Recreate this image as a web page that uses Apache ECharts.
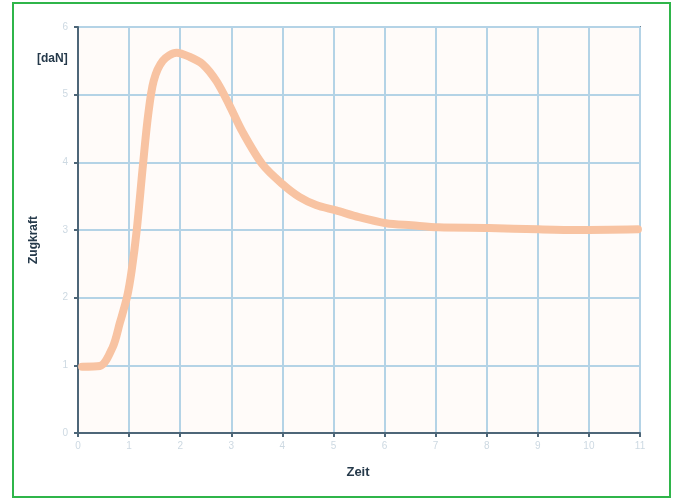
<!DOCTYPE html>
<html>
<head>
<meta charset="utf-8">
<script src="https://cdn.jsdelivr.net/npm/echarts@6/dist/echarts.min.js"></script>
<style>
html,body{margin:0;padding:0;background:#fff;}
#c{width:675px;height:500px;}
</style>
</head>
<body>
<div id="c"></div>
<script>
// Time (x) and tensile force (y)
const zeit =     [0.08, 0.43, 0.68, 0.82, 0.96, 1.05, 1.15, 1.27, 1.37, 1.48, 1.66, 1.93, 2.18, 2.44, 2.71, 2.96, 3.22, 3.61, 4.0, 4.33, 4.66, 5.05, 5.5, 6.03, 6.53, 7.06, 8.04, 9.01, 9.79, 10.96];
const zugkraft = [0.98, 0.99, 1.27, 1.63, 2.01, 2.40, 3.0, 3.95, 4.68, 5.20, 5.50, 5.62, 5.56, 5.45, 5.20, 4.85, 4.45, 3.97, 3.68, 3.49, 3.37, 3.29, 3.19, 3.10, 3.07, 3.04, 3.03, 3.01, 3.0, 3.01];
const xTicks = ['0','1','2','3','4','5','6','7','8','9','10','11'];
const yTicks = ['0','1','2','3','4','5','6'];

const chart = echarts.init(document.getElementById('c'));
chart.setOption({
  animation: false,
  backgroundColor: '#ffffff',
  graphic: [
    {type:'rect', shape:{x:13,y:3,width:657,height:494}, style:{fill:'none', stroke:'#2fb54a', lineWidth:2}, z:0},
    {type:'text', left:37, top:53, style:{text:'[daN]', font:'bold 12px "Liberation Sans", Arial', fill:'#25394a'}},
    {type:'text', x:34, y:240, rotation:Math.PI/2, style:{text:'Zugkraft', font:'bold 12px "Liberation Sans", Arial', fill:'#25394a', align:'center', verticalAlign:'middle'}},
    {type:'text', x:358, y:472, style:{text:'Zeit', font:'bold 13px "Liberation Sans", Arial', fill:'#25394a', align:'center', verticalAlign:'middle'}}
  ],
  grid: {left:78, top:27, right:35, bottom:67, show:true, borderColor:'#6b8496', borderWidth:2, backgroundColor:'#fffbf9'},
  xAxis: {
    type:'value', min:0, max:11, interval:1,
    axisLine:{show:true, onZero:false, lineStyle:{color:'#4d6678', width:2}},
    axisTick:{show:true, length:4, lineStyle:{color:'#4d6678', width:2}},
    axisLabel:{color:'#cdd9e2', fontSize:10, margin:8, formatter:(v)=>xTicks[v]},
    splitLine:{show:true, lineStyle:{color:'#b4d3e6', width:2}}
  },
  yAxis: {
    type:'value', min:0, max:6, interval:1,
    axisLine:{show:true, onZero:false, lineStyle:{color:'#4d6678', width:2}},
    axisTick:{show:true, length:4, lineStyle:{color:'#4d6678', width:2}},
    axisLabel:{color:'#cdd9e2', fontSize:10, margin:10, formatter:(v)=>yTicks[v]},
    splitLine:{show:true, lineStyle:{color:'#b4d3e6', width:2}}
  },
  series: [{
    type:'line',
    data: zeit.map((x,i)=>[x, zugkraft[i]]),
    smooth:0.3,
    showSymbol:false,
    lineStyle:{color:'#f8c3a2', width:8, cap:'round', join:'round'},
    z:3
  }]
});
</script>
</body>
</html>
